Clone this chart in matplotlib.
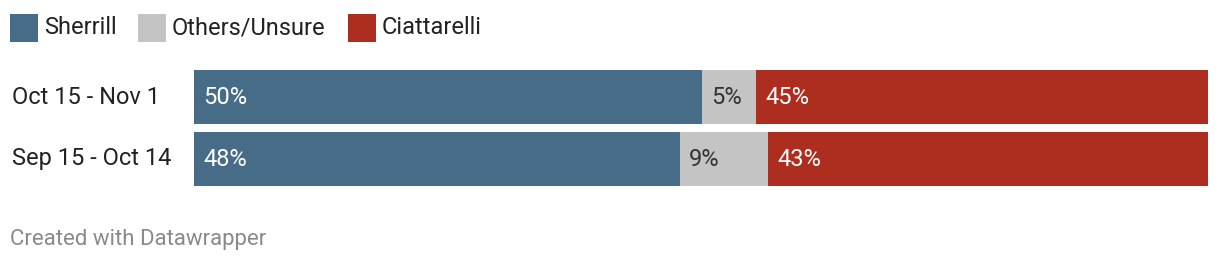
import numpy as np
import matplotlib
matplotlib.use("Agg")
import matplotlib.pyplot as plt
from matplotlib.patches import Rectangle

plt.rcParams['font.family'] = ['Roboto', 'DejaVu Sans']

periods = ["Oct 15 - Nov 1", "Sep 15 - Oct 14"]
series = ["Sherrill", "Others/Unsure", "Ciattarelli"]
sherrill = [50.1, 47.9]
others = [5.3, 8.7]
ciattarelli = [44.6, 43.4]

colors = ["#466c87", "#c4c4c4", "#ad2e1e"]
label_colors = ["white", "#333333", "white"]

W, H = 1220, 262
fig = plt.figure(figsize=(W / 100, H / 100), dpi=100)

ax = fig.add_axes([194 / W, 1 - 186 / H, 1014 / W, 116 / H])
bar_h = 54 / 62
y = np.arange(len(periods))
left = np.zeros(len(periods))
for vals, col, lc in zip([sherrill, others, ciattarelli], colors, label_colors):
    vals = np.array(vals)
    ax.barh(y, vals, left=left, height=bar_h, color=col, linewidth=0)
    for yi, l, v in zip(y, left, vals):
        ax.text(l + 0.95, yi, f"{round(v)}%", color=lc, fontsize=17,
                va="center", ha="left")
    left = left + vals

ax.set_xlim(0, 100)
ax.set_ylim(len(periods) - 1 + bar_h / 2, -bar_h / 2)
ax.axis("off")

# row labels
for yi, p in zip(y, periods):
    fig.text(12 / W, 1 - (97 + yi * 62) / H, p, fontsize=17, color="#222222",
             va="center", ha="left")

# legend
legend_x = [10, 138, 348]
for x0, name, col in zip(legend_x, series, colors):
    fig.patches.append(Rectangle((x0 / W, 1 - 42 / H), 28 / W, 28 / H,
                                 transform=fig.transFigure, color=col, linewidth=0))
    fig.text((x0 + 34) / W, 1 - 28 / H, name, fontsize=17, color="#222222",
             va="center", ha="left")

fig.text(10 / W, 1 - 239 / H, "Created with Datawrapper", fontsize=16,
         color="#8a8a8a", va="center", ha="left")

fig.savefig("out.png", dpi=100, facecolor="white")
